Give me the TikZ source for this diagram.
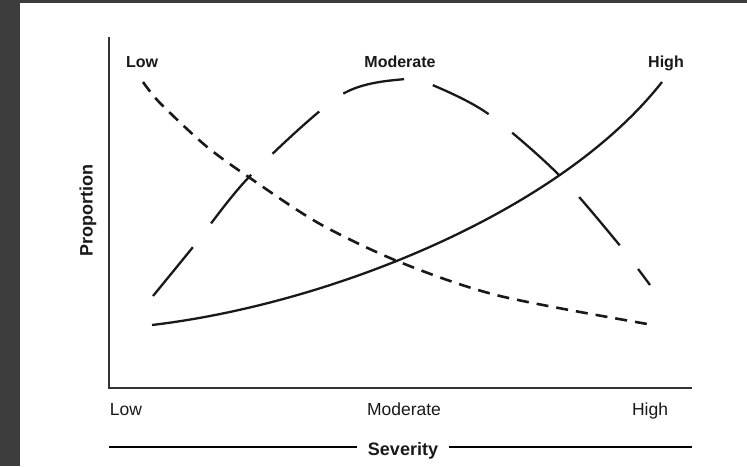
\documentclass[tikz,border=0pt]{standalone}
\usepackage{fontspec}
\setmainfont{Liberation Sans}
\usetikzlibrary{positioning}

\begin{document}
\begin{tikzpicture}[
		x=1pt,
		y=-1pt,
		every node/.style={
			inner sep=0pt,
			text=black!90
		},
		curvelbl/.style={
			anchor=base,
			font=\fontsize{16}{18}\selectfont\bfseries
		},
		scalelbl/.style={
			anchor=base,
			font=\fontsize{17.5}{20}\selectfont
		},
		axistitle/.style={
			font=\fontsize{18}{20}\selectfont\bfseries
		},
		axisline/.style={
			draw=black!80,
			line width=2pt
		},
		sevline/.style={
			draw=black,
			line width=2.4pt
		},
		lowline/.style={
			draw=black!90,
			line width=2.6pt,
			dash pattern=on 12pt off 8pt
		},
		modline/.style={
			draw=black!90,
			line width=2.3pt,
			dash pattern=on 63pt off 30pt
		},
		highline/.style={
			draw=black!90,
			line width=2.3pt
		}]

		% frame
		\fill[white] (0,0) rectangle (747,466);
		\fill[black!76] (0,0) rectangle (20,466);
		\fill[black!76] (0,0) rectangle (747,3);
		\useasboundingbox (0,0) rectangle (747,466);

		% axes
		\coordinate (ytop) at (109,37);
		\coordinate (xend) at (692,388);
		\draw[axisline] (ytop) |- (xend);

		% curves
		\draw[lowline] plot[smooth] coordinates {(143,82) (160,103) (206,146) (250,178) (320,224) (402,263) (500,296) (653,325)};
		\draw[modline] plot[smooth] coordinates {(153,296) (193,247) (250,176) (341,95) (405,79) (430,84) (487,113) (557,173) (617,242) (650,285)};
		\draw[highline] (152,325) .. controls (330,304) and (560,212) .. (662,82);

		% curve labels
		\node[curvelbl] (lowtop) at (142,67) {Low};
		\node[curvelbl] (modtop) at (400,67) {Moderate};
		\node[curvelbl] (hightop) at (666,67) {High};

		% scale labels
		\node[scalelbl] (lowx) at (126,415) {Low};
		\node[scalelbl] (modx) at (404,415) {Moderate};
		\node[scalelbl] (highx) at (650,415) {High};

		% titles
		\node[axistitle, rotate=90] (prop) at (88,211) {Proportion};
		\node[axistitle, anchor=base, inner xsep=11pt] (sev) at (403,455) {Severity};
		\coordinate (sevstart) at (109,447);
		\coordinate (sevend) at (692,447);
		\draw[sevline] (sevstart) -- (sevstart -| sev.west);
		\draw[sevline] (sevend -| sev.east) -- (sevend);

	\end{tikzpicture}
\end{document}
